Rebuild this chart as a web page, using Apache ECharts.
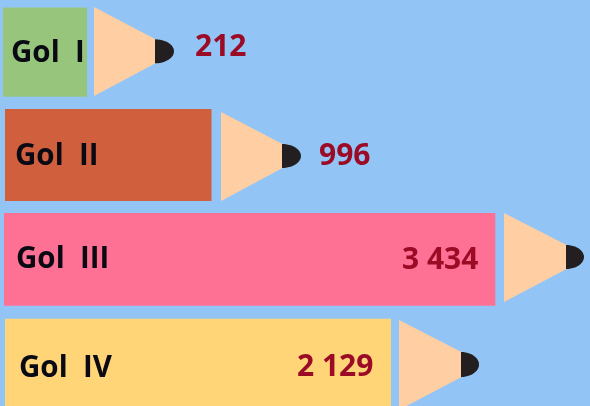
<!DOCTYPE html>
<html><head><meta charset="utf-8">
<style>html,body{margin:0;padding:0;background:#92C5F5;overflow:hidden}#c{width:590px;height:406px}</style>
<script src="https://cdn.jsdelivr.net/npm/echarts@6/dist/echarts.min.js"></script>
</head><body><div id="c"></div>
<script>
// Printed labels and values
const categories = ['Gol  I', 'Gol  II', 'Gol  III', 'Gol  IV'];
const valueLabels = ['212', '996', '3 434', '2 129'];
// The picture's bars are not proportional to the printed values, so the drawn
// lengths are read separately, in the units of the hidden x axis.
const barStarts = [3, 5, 4, 5];
const barLengths = [84, 206.5, 491.3, 386];

// Per-row styling and layout, all relative to the row's band centre / bar end
const barColors = ['#97C57C', '#D05F3D', '#FF7194', '#FFD577'];
const WOOD = '#FFCFA3', LEAD = '#231F20', VALUE = '#9B0B26', LABEL = '#0A0A14';
const rows = [
  {shift:1.25, top:-44.5, bot:44.7, wTop:-45, wBot:44, gap:7,   wLen:61, lc:-0.7, lh:12,   lLen:19, tx:11, ty:2,  vx:195, vy:-4.5},
  {shift:3.75, top:-47,   bot:45,   wTop:-44, wBot:45, gap:9.5, wLen:61, lc:0,    lh:12,   lLen:19, tx:15, ty:1,  vx:319, vy:0.5},
  {shift:6.25, top:-47,   bot:45.7, wTop:-47, wBot:42, gap:8.7, wLen:62, lc:-3,   lh:12,   lLen:18, tx:16, ty:0,  vx:402, vy:0.5},
  {shift:8.75, top:-45.3, bot:50,   wTop:-44, wBot:46, gap:8,   wLen:62, lc:0.5,  lh:12.5, lLen:18, tx:19, ty:5,  vx:297, vy:3.5}
];
const FONT = '"Open Sans","Noto Sans",sans-serif';

function renderRow(params, api) {
  const i = params.dataIndex, r = rows[i];
  const start = api.value(0), len = api.value(1);
  const c = api.coord([0, i])[1] + r.shift;
  const x0 = api.coord([start, i])[0];
  const x1 = api.coord([start + len, i])[0];
  const wx = x1 + r.gap, lx = wx + r.wLen, ly = c + r.lc;
  const leadPts = [];
  for (let k = 0; k <= 24; k++) {
    const t = -Math.PI / 2 + Math.PI * k / 24;
    leadPts.push([lx + r.lLen * Math.cos(t), ly + r.lh * Math.sin(t)]);
  }
  return {type: 'group', children: [
    {type: 'rect', shape: {x: x0, y: c + r.top, width: x1 - x0, height: r.bot - r.top},
     style: {fill: barColors[i]}},
    {type: 'polygon', shape: {points: [[wx, c + r.wTop], [lx + 0.5, ly - r.lh], [lx + 0.5, ly + r.lh], [wx, c + r.wBot]]},
     style: {fill: WOOD}},
    {type: 'polygon', shape: {points: leadPts}, style: {fill: LEAD}},
    {type: 'text', style: {x: r.tx, y: c + r.ty, text: categories[i], fill: LABEL,
      font: 'bold 29.5px ' + FONT, verticalAlign: 'middle', textAlign: 'left'}},
    {type: 'text', style: {x: r.vx, y: c + r.vy, text: valueLabels[i], fill: VALUE,
      font: 'bold 30px ' + FONT, verticalAlign: 'middle', textAlign: 'left'}}
  ]};
}

const chart = echarts.init(document.getElementById('c'), null, {renderer: 'canvas'});
chart.setOption({
  animation: false,
  backgroundColor: '#92C5F5',
  grid: {left: 0, right: 0, top: 0, bottom: 0},
  xAxis: {type: 'value', min: 0, max: 590, show: false},
  yAxis: {type: 'category', inverse: true, data: categories, show: false},
  series: [{
    type: 'custom',
    coordinateSystem: 'cartesian2d',
    clip: false,
    renderItem: renderRow,
    encode: {x: [0, 1], y: 2},
    data: categories.map((cat, i) => [barStarts[i], barLengths[i], cat])
  }]
});
</script></body></html>
